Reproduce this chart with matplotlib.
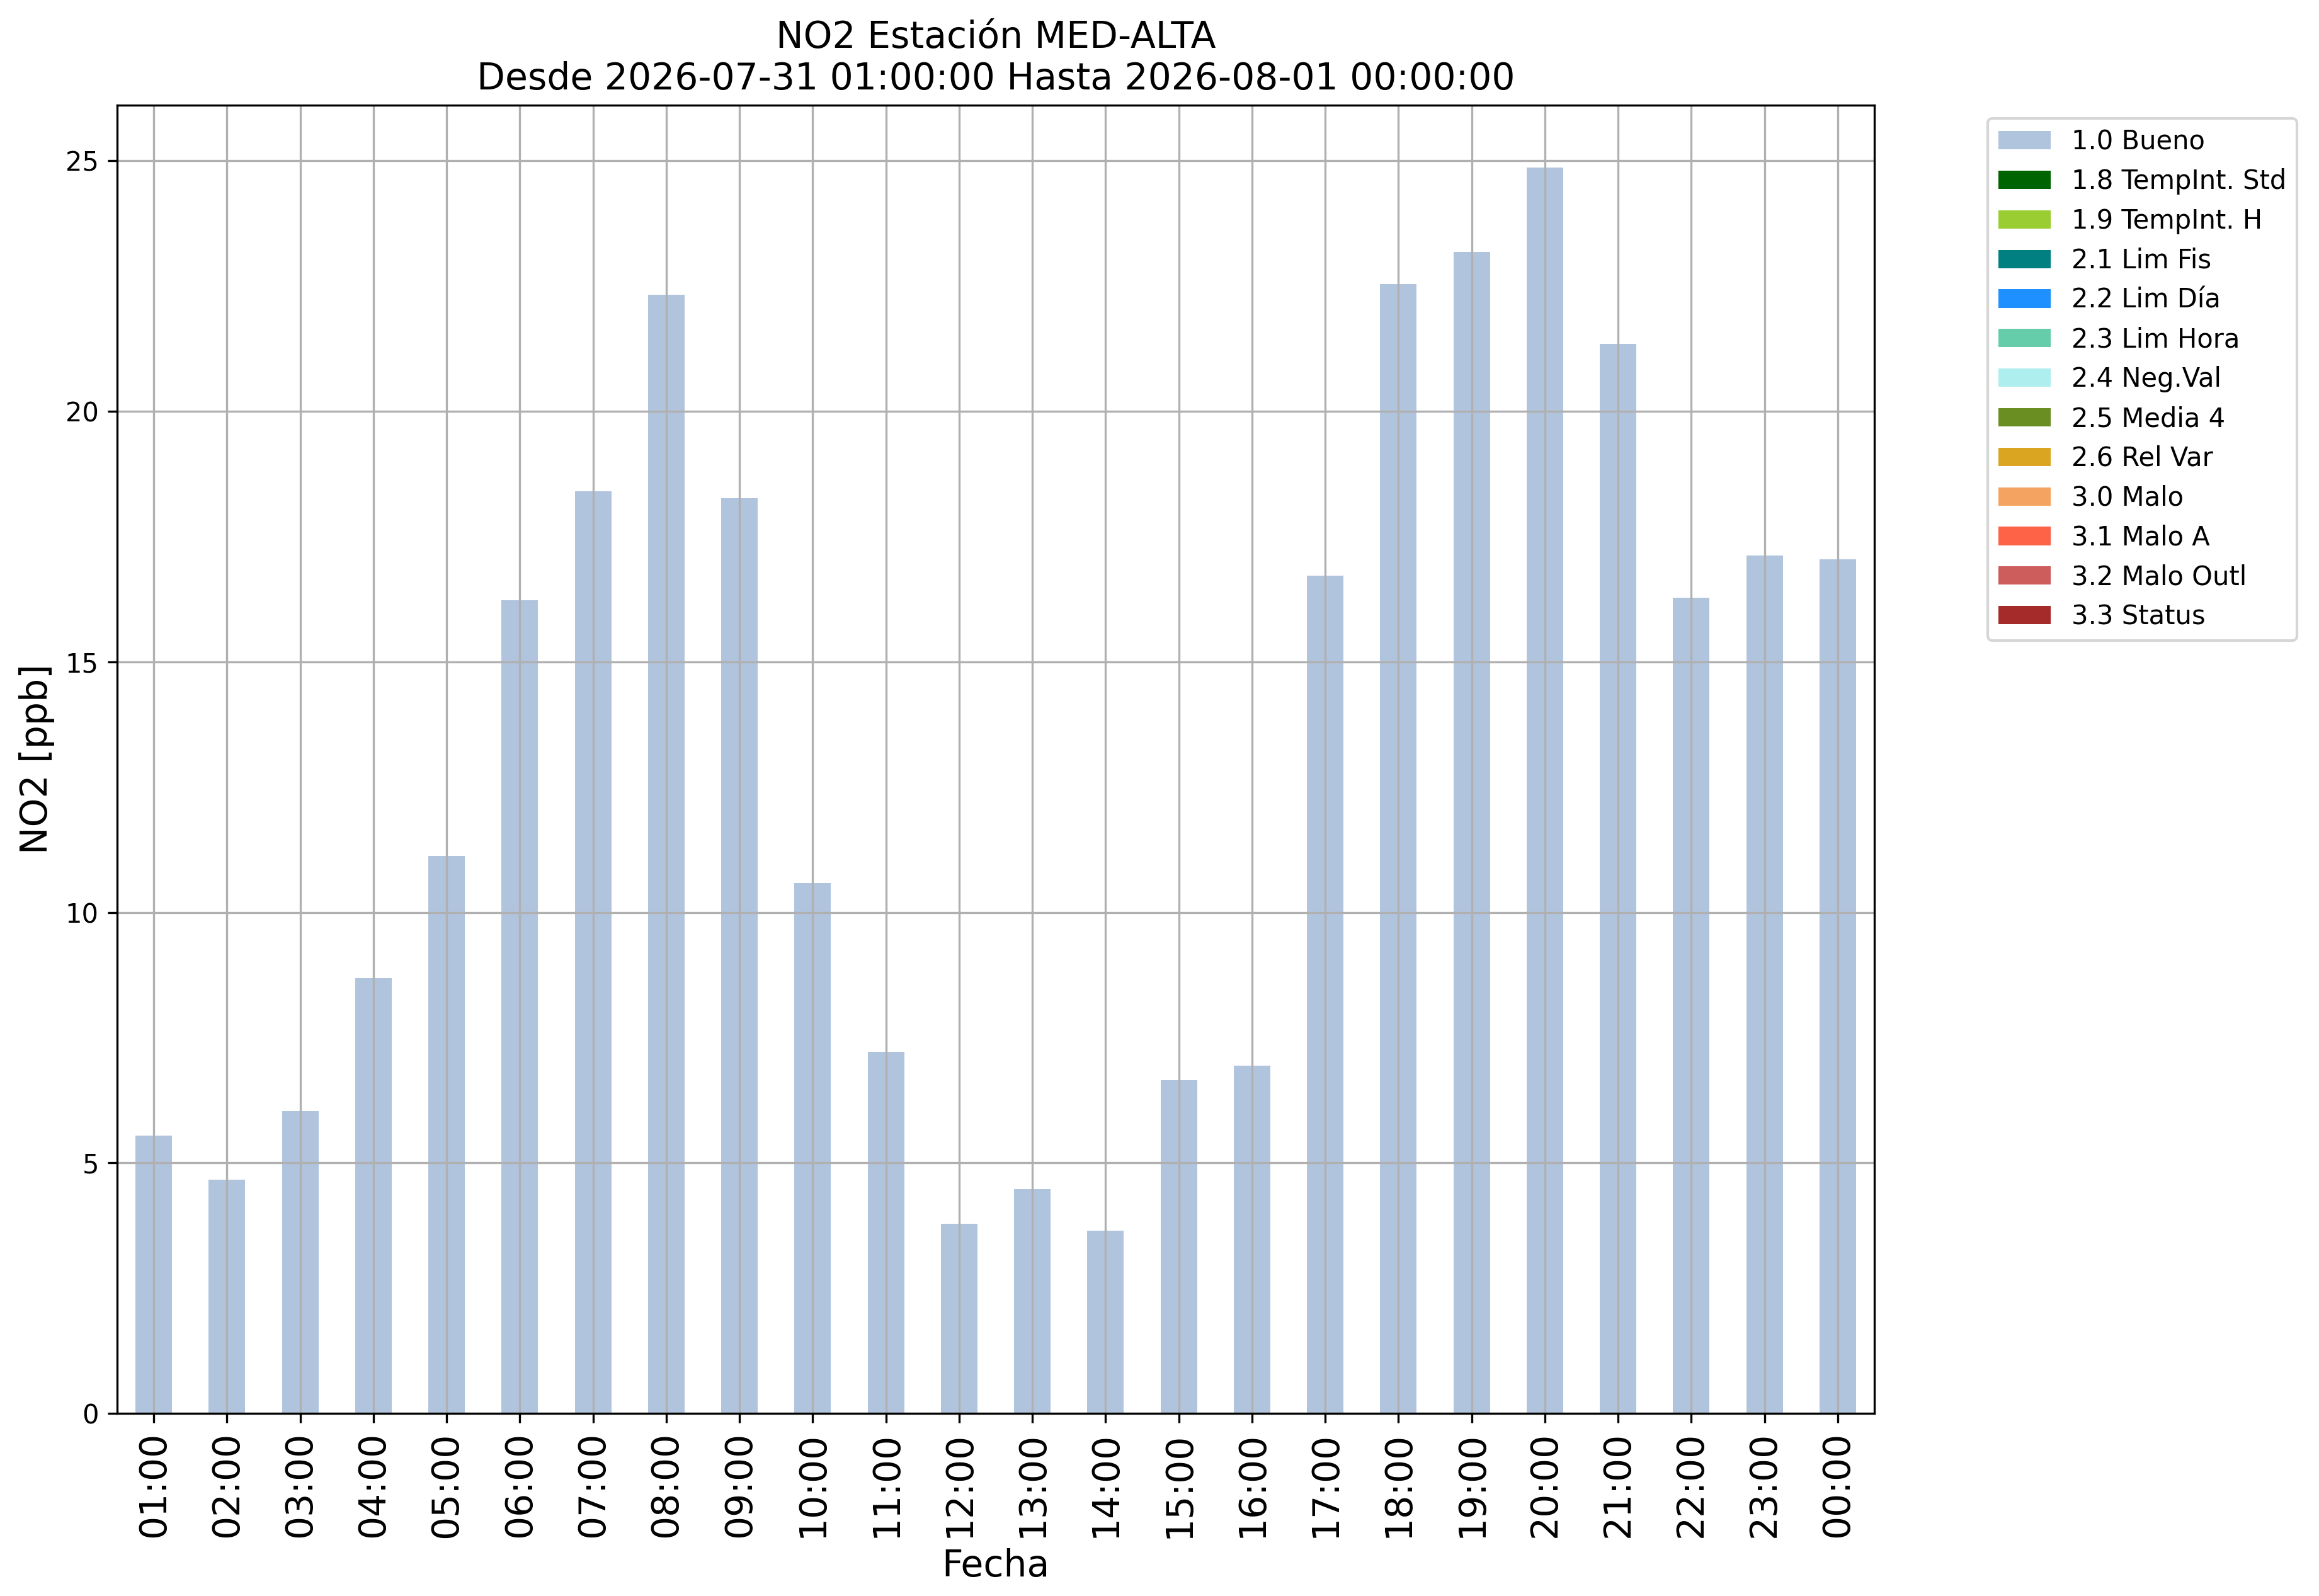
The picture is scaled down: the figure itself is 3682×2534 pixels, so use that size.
import matplotlib
matplotlib.use("Agg")
import matplotlib.pyplot as plt
import numpy as np
import pandas as pd

# horas del día (2026-07-31 01:00 -> 2026-08-01 00:00)
horas = ["01:00", "02:00", "03:00", "04:00", "05:00", "06:00", "07:00", "08:00",
         "09:00", "10:00", "11:00", "12:00", "13:00", "14:00", "15:00", "16:00",
         "17:00", "18:00", "19:00", "20:00", "21:00", "22:00", "23:00", "00:00"]

# NO2 [ppb], todos con flag 1.0 Bueno
no2 = [5.55, 4.67, 6.04, 8.69, 11.13, 16.23, 18.40, 22.33,
       18.26, 10.58, 7.21, 3.78, 4.48, 3.65, 6.65, 6.94,
       16.72, 22.54, 23.18, 24.87, 21.35, 16.28, 17.12, 17.04]

flags = ["1.0 Bueno", "1.8 TempInt. Std", "1.9 TempInt. H", "2.1 Lim Fis",
         "2.2 Lim Día", "2.3 Lim Hora", "2.4 Neg.Val", "2.5 Media 4",
         "2.6 Rel Var", "3.0 Malo", "3.1 Malo A", "3.2 Malo Outl", "3.3 Status"]

colores = ["lightsteelblue", "darkgreen", "yellowgreen", "teal", "dodgerblue",
           "mediumaquamarine", "paleturquoise", "olivedrab", "goldenrod",
           "sandybrown", "tomato", "indianred", "brown"]

df = pd.DataFrame(0.0, index=horas, columns=flags)
df["1.0 Bueno"] = no2

fig = plt.figure(figsize=(3682 / 300, 2534 / 300), dpi=300)
ax = fig.add_subplot(111)
plt.subplots_adjust(left=186 / 3682, right=2976 / 3682, top=1 - 166.7 / 2534, bottom=1 - 2244 / 2534)

df.plot(kind="bar", stacked=True, color=colores, ax=ax, grid=True, legend=False)

ax.set_title("NO2 Estación MED-ALTA\nDesde 2026-07-31 01:00:00 Hasta 2026-08-01 00:00:00", fontsize=14)
ax.set_xlabel("Fecha", fontsize=14)
ax.set_ylabel("NO2 [ppb]", fontsize=14)
ax.tick_params(axis="x", labelsize=14, labelrotation=90)
ax.tick_params(axis="y", labelsize=10)
ax.legend(bbox_to_anchor=(1.057, 1), loc="upper left", fontsize=10)

plt.savefig("out.png", dpi=300)
